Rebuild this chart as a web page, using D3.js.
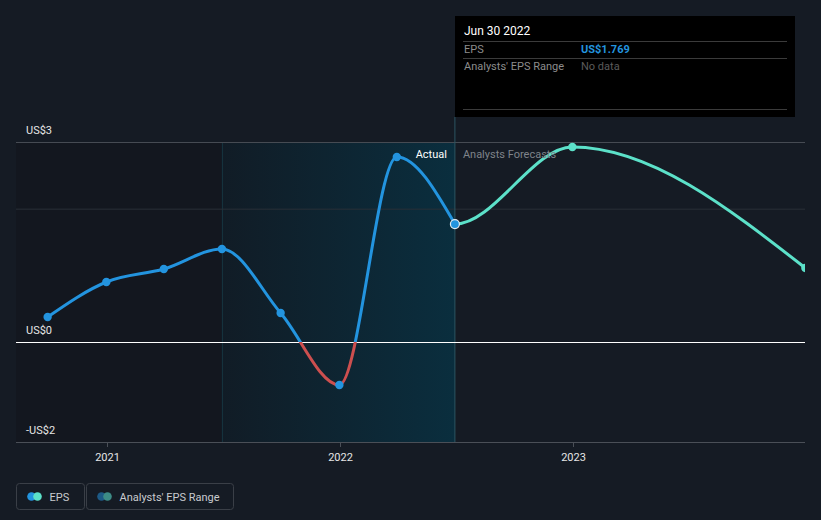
<!DOCTYPE html>
<html>
<head>
<meta charset="utf-8">
<script src="https://cdn.jsdelivr.net/npm/d3@7"></script>
<style>
  html, body { margin: 0; padding: 0; background: #151b24; }
  svg { display: block; font-family: Roboto, "Noto Sans", sans-serif; }
</style>
</head>
<body>
<svg id="chart" width="821" height="520"></svg>
<script>
// ---- data ----
const actualDates = ["2020-09-30", "2020-12-31", "2021-03-31", "2021-06-30", "2021-09-30", "2021-12-31", "2022-03-31", "2022-06-30"];
const actualEPS   = [0.375, 0.90, 1.095, 1.395, 0.435, -0.645, 2.775, 1.769];
const forecastDates = ["2022-06-30", "2022-12-31", "2023-12-31"];
const forecastEPS   = [1.769, 2.925, 1.11];
const yTickValues = [3, 0, -1.5];
const yTickLabels = ["US$3", "US$0", "-US$2"];
const xTickYears = [2021, 2022, 2023];
const pastStart = "2021-06-30";
const todayDate = "2022-06-30";
const tooltipTitle = "Jun 30 2022";
const tooltipRows = [["EPS", "US$1.769"], ["Analysts' EPS Range", "No data"]];
const legendItems = ["EPS", "Analysts' EPS Range"];

const parse = d3.utcParse("%Y-%m-%d");
const actual = actualDates.map((d, i) => ({ date: parse(d), v: actualEPS[i] }));
const forecast = forecastDates.map((d, i) => ({ date: parse(d), v: forecastEPS[i] }));

const svg = d3.select("#chart");
const pLeft = 16, pRight = 805, pTop = 142, pBottom = 442;

const x = d3.scaleUtc().domain([Date.UTC(2021, 0, 1), Date.UTC(2023, 0, 1)]).range([107, 573]);
const y = d3.scaleLinear().domain([-1.5, 3]).range([pBottom, pTop]);

const defs = svg.append("defs");
const grad = defs.append("linearGradient").attr("id", "shade").attr("x1", 0).attr("x2", 1).attr("y1", 0).attr("y2", 0);
grad.append("stop").attr("offset", "0%").attr("stop-color", "#111c26");
grad.append("stop").attr("offset", "100%").attr("stop-color", "#0a2e3e");

const xp = x(parse(pastStart)), xt = x(parse(todayDate));

defs.append("clipPath").attr("id", "plotClip").append("rect")
  .attr("x", pLeft).attr("y", 0).attr("width", pRight - pLeft).attr("height", 470);
defs.append("clipPath").attr("id", "posClip").append("rect")
  .attr("x", pLeft).attr("y", 0).attr("width", pRight - pLeft).attr("height", y(0));
defs.append("clipPath").attr("id", "negClip").append("rect")
  .attr("x", pLeft).attr("y", y(0)).attr("width", pRight - pLeft).attr("height", 200);
defs.append("clipPath").attr("id", "futClip").append("rect")
  .attr("x", xt).attr("y", 0).attr("width", pRight - xt).attr("height", 470);

// past (darker) region
svg.append("rect").attr("x", pLeft).attr("y", pTop).attr("width", xp - pLeft).attr("height", pBottom - pTop).attr("fill", "#13171f");
// shaded last-year region
svg.append("rect").attr("x", xp).attr("y", pTop).attr("width", xt - xp).attr("height", pBottom - pTop).attr("fill", "url(#shade)");
svg.append("line").attr("x1", xp + 0.5).attr("x2", xp + 0.5).attr("y1", pTop).attr("y2", pBottom).attr("stroke", "#173540").attr("stroke-width", 1);

// grid lines
svg.append("line").attr("x1", pLeft).attr("x2", pRight).attr("y1", y(3) + 0.5).attr("y2", y(3) + 0.5).attr("stroke", "#464b53").attr("stroke-width", 1);
svg.append("line").attr("x1", pLeft).attr("x2", pRight).attr("y1", y(2) + 0.5).attr("y2", y(2) + 0.5).attr("stroke", "#2a2f38").attr("stroke-width", 1);

// today vertical line
svg.append("line").attr("x1", xt).attr("x2", xt).attr("y1", 117).attr("y2", pBottom).attr("stroke", "#2c5561").attr("stroke-width", 1);

// zero line
svg.append("line").attr("x1", pLeft).attr("x2", pRight).attr("y1", y(0) + 0.5).attr("y2", y(0) + 0.5).attr("stroke", "#ffffff").attr("stroke-width", 1);

// x axis
const xAxis = svg.append("g").attr("transform", `translate(0,${pBottom})`)
  .call(d3.axisBottom(x).tickValues(xTickYears.map(yv => new Date(Date.UTC(yv, 0, 1)))).tickFormat(d3.utcFormat("%Y")).tickSize(5).tickPadding(6));
xAxis.select(".domain").remove();
xAxis.selectAll(".tick line").attr("stroke", "#4a4f57");
xAxis.selectAll(".tick text").attr("fill", "#e6e6e6").attr("font-size", 11).attr("font-family", "Roboto, sans-serif");
svg.append("line").attr("x1", pLeft).attr("x2", pRight).attr("y1", pBottom + 0.5).attr("y2", pBottom + 0.5).attr("stroke", "#4a4f57").attr("stroke-width", 1);

// y labels
svg.selectAll(".ylab").data(yTickValues).enter().append("text")
  .attr("x", 26).attr("y", d => y(d) - 8).attr("fill", "#e6e6e6").attr("font-size", 11)
  .text((d, i) => yTickLabels[i]);

// lines
const line = d3.line().x(d => x(d.date)).y(d => y(d.v)).curve(d3.curveMonotoneX);
const g = svg.append("g").attr("clip-path", "url(#plotClip)");
g.append("path").datum(actual).attr("d", line).attr("fill", "none").attr("stroke", "#2394df").attr("stroke-width", 3).attr("clip-path", "url(#posClip)");
const gneg = g.append("g").attr("clip-path", "url(#negClip)");
gneg.append("path").datum(actual).attr("d", line).attr("fill", "none").attr("stroke", "#cd4f4f").attr("stroke-width", 3);
// forecast continues the actual series (smooth join), shown only from today onwards
const joined = actual.slice(0, -1).concat(forecast);
const gfut = g.append("g").attr("clip-path", "url(#futClip)");
gfut.append("path").datum(joined).attr("d", line).attr("fill", "none").attr("stroke", "#5ce1c9").attr("stroke-width", 3);

// dots
g.selectAll(".adot").data(actual.slice(0, -1)).enter().append("circle")
  .attr("cx", d => x(d.date)).attr("cy", d => y(d.v)).attr("r", 4.2).attr("fill", "#2394df");
g.selectAll(".fdot").data(forecast.slice(1)).enter().append("circle")
  .attr("cx", d => x(d.date)).attr("cy", d => y(d.v)).attr("r", 4.2).attr("fill", "#5ce1c9");
const last = actual[actual.length - 1];
g.append("circle").attr("cx", x(last.date)).attr("cy", y(last.v)).attr("r", 4.5).attr("fill", "#2394df").attr("stroke", "#dfe9f0").attr("stroke-width", 1.2);

// Actual / Forecast labels
svg.append("text").attr("x", xt - 8).attr("y", 158).attr("text-anchor", "end").attr("fill", "#ffffff").attr("font-size", 11).text("Actual");
svg.append("text").attr("x", xt + 8).attr("y", 158).attr("fill", "#7f838a").attr("font-size", 11).text("Analysts Forecasts");

// tooltip
const tt = svg.append("g");
tt.append("rect").attr("x", 455).attr("y", 16).attr("width", 340).attr("height", 101).attr("fill", "#000000");
tt.append("text").attr("x", 464).attr("y", 35).attr("fill", "#ffffff").attr("font-size", 12).text(tooltipTitle);
[41.5, 58.5, 109.5].forEach(yy => tt.append("line").attr("x1", 463).attr("x2", 787).attr("y1", yy).attr("y2", yy).attr("stroke", "#3b3b3b"));
tooltipRows.forEach((r, i) => {
  const yy = 53 + i * 17;
  tt.append("text").attr("x", 464).attr("y", yy).attr("fill", "#8c8c8c").attr("font-size", 11).text(r[0]);
  tt.append("text").attr("x", 581).attr("y", yy).attr("fill", i === 0 ? "#2394df" : "#5b5b5b")
    .attr("font-size", 11).attr("font-weight", i === 0 ? 700 : 400).text(r[1]);
});

// legend
const lg = svg.append("g");
const boxes = [{ x: 16.5, w: 68, icon: ["#2394df", "#5ce1c9"] }, { x: 86.5, w: 147, icon: ["#1d5a86", "#3d8c86"] }];
boxes.forEach((b, i) => {
  lg.append("rect").attr("x", b.x).attr("y", 483.5).attr("width", b.w).attr("height", 26).attr("rx", 3)
    .attr("fill", "none").attr("stroke", "#3a3f47");
  lg.append("circle").attr("cx", b.x + 15).attr("cy", 496.5).attr("r", 4.3).attr("fill", b.icon[0]);
  lg.append("circle").attr("cx", b.x + 21).attr("cy", 496.5).attr("r", 4.3).attr("fill", b.icon[1]);
  lg.append("text").attr("x", b.x + 33).attr("y", 500.5).attr("fill", "#c9cbcf").attr("font-size", 11).text(legendItems[i]);
});
</script>
</body>
</html>
